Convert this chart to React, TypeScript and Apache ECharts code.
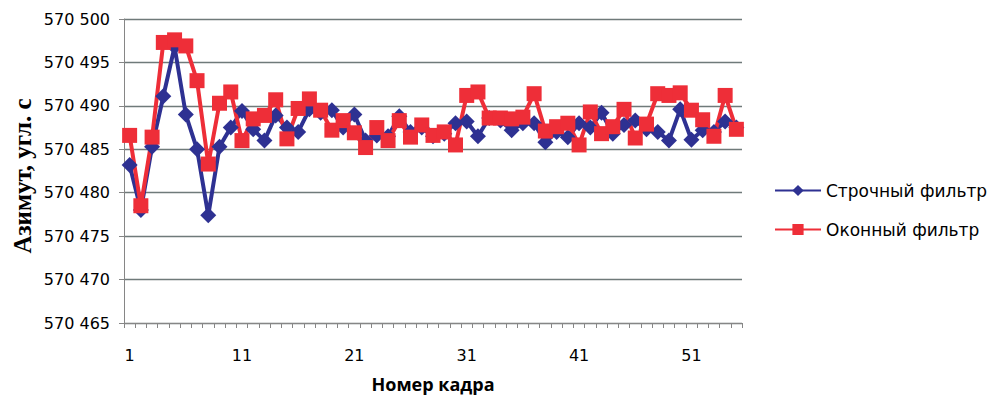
import React, { useEffect, useRef } from "react";
import * as echarts from "echarts";

const frames: string[] = Array.from({ length: 55 }, (_, i) => String(i + 1));

const rowFilter: number[] = [
  570483.2, 570478.0, 570485.3, 570491.1, 570496.8, 570489.0, 570485.0, 570477.4, 570485.3, 570487.5,
  570489.4, 570487.3, 570486.0, 570488.9, 570487.5, 570487.0, 570489.6, 570489.2, 570489.5, 570487.5,
  570489.0, 570486.0, 570486.6, 570486.5, 570488.8, 570487.0, 570487.5, 570486.5, 570486.8, 570488.0,
  570488.2, 570486.5, 570488.6, 570488.3, 570487.2, 570488.0, 570488.0, 570485.8, 570487.0, 570486.4,
  570488.0, 570487.5, 570489.2, 570486.8, 570487.8, 570488.3, 570487.3, 570487.0, 570486.0, 570489.6,
  570486.1, 570487.2, 570487.0, 570488.2, 570487.5,
];

const windowFilter: number[] = [
  570486.6, 570478.5, 570486.4, 570497.3, 570497.6, 570496.9, 570492.9, 570483.3, 570490.3, 570491.6,
  570486.0, 570488.5, 570488.9, 570490.7, 570486.2, 570489.7, 570490.8, 570489.5, 570487.2, 570488.3,
  570486.9, 570485.2, 570487.5, 570486.0, 570488.3, 570486.4, 570487.8, 570486.6, 570487.0, 570485.5,
  570491.2, 570491.6, 570488.6, 570488.6, 570488.5, 570488.7, 570491.4, 570487.1, 570487.6, 570488.0,
  570485.5, 570489.3, 570486.8, 570487.6, 570489.6, 570486.3, 570487.9, 570491.4, 570491.2, 570491.5,
  570489.5, 570488.4, 570486.5, 570491.2, 570487.3,
];

const seriesNames = ["Строчный фильтр", "Оконный фильтр"];
const yTitle = "Азимут, угл. с";
const xTitle = "Номер кадра";
const yMin = 570465;
const yMax = 570500;
const yStep = 5;

export default function App() {
  const ref = useRef<HTMLDivElement>(null);
  useEffect(() => {
    document.body.style.margin = "0";
    if (!ref.current) return;
    const chart = echarts.init(ref.current, undefined, { renderer: "svg" });
    const labelFont = "DejaVu Sans";
    chart.setOption({
      animation: false,
      backgroundColor: "#ffffff",
      grid: { left: 124, right: 252, top: 19, bottom: 62, containLabel: false },
      graphic: [
        {
          type: "text",
          x: 22,
          y: 176,
          rotation: Math.PI / 2,
          style: {
            text: yTitle,
            fontFamily: "Liberation Serif",
            fontWeight: "bold",
            fontSize: 25,
            fill: "#000000",
            align: "center",
            verticalAlign: "middle",
          },
        },
      ],
      legend: {
        orient: "vertical",
        left: 769,
        top: 177,
        itemWidth: 46,
        itemHeight: 14,
        itemGap: 22,
        textStyle: { fontFamily: labelFont, fontSize: 17, color: "#000000" },
        data: seriesNames,
      },
      xAxis: {
        type: "category",
        data: frames,
        boundaryGap: true,
        name: xTitle,
        nameLocation: "middle",
        nameGap: 52,
        nameTextStyle: { fontFamily: "Open Sans", fontWeight: "bold", fontSize: 18, color: "#000000" },
        axisLine: { show: true, lineStyle: { color: "#868686", width: 1 } },
        axisTick: { show: true, interval: 0, alignWithLabel: false, length: 5, lineStyle: { color: "#868686" } },
        axisLabel: { interval: 9, margin: 24, fontFamily: labelFont, fontSize: 16, color: "#000000" },
        splitLine: { show: false },
      },
      yAxis: {
        type: "value",
        min: yMin,
        max: yMax,
        interval: yStep,
        axisLine: { show: true, lineStyle: { color: "#868686", width: 1 } },
        axisTick: { show: true, length: 5, lineStyle: { color: "#868686" } },
        axisLabel: {
          margin: 14,
          fontFamily: labelFont,
          fontSize: 16,
          color: "#000000",
          formatter: (v: number) => {
            const s = String(Math.round(v));
            return s.slice(0, 3) + " " + s.slice(3);
          },
        },
        splitLine: { show: true, lineStyle: { color: "#6f7a7a", width: 1.3 } },
      },
      series: [
        {
          name: seriesNames[0],
          type: "line",
          data: rowFilter,
          symbol: "diamond",
          symbolSize: 16,
          showAllSymbol: true,
          color: "#2e3192",
          lineStyle: { width: 4, color: "#2e3192" },
          itemStyle: { color: "#2e3192" },
        },
        {
          name: seriesNames[1],
          type: "line",
          data: windowFilter,
          symbol: "rect",
          symbolSize: 15,
          showAllSymbol: true,
          color: "#ee2e38",
          lineStyle: { width: 4, color: "#ee2e38" },
          itemStyle: { color: "#ee2e38" },
        },
      ],
    });
    return () => chart.dispose();
  }, []);
  return <div ref={ref} style={{ width: 994, height: 398 }} />;
}
